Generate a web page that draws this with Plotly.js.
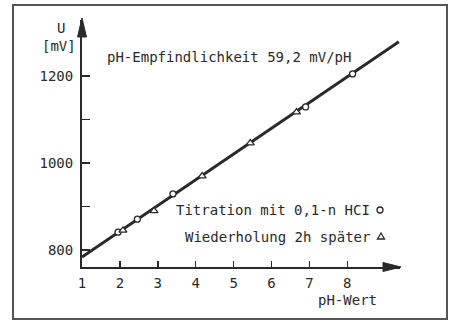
<!DOCTYPE html>
<html>
<head>
<meta charset="utf-8">
<script src="https://cdn.plot.ly/plotly-3.0.1.min.js"></script>
<style>html,body{margin:0;padding:0;background:#fff;}#chart{width:452px;height:320px;}</style>
</head>
<body>
<div id="chart"></div>
<script>
// Data
const titrationPH = [1.95, 2.46, 3.4, 6.9, 8.14];
const titrationU  = [841, 871, 929, 1129, 1205];
const repeatPH    = [2.08, 2.9, 4.17, 5.44, 6.66];
const repeatU     = [845, 890, 970, 1046, 1117];
const fitPH       = [1, 9.36];
const fitU        = [784, 1279];
const yTickVals   = [800, 900, 1000, 1100, 1200];
const yTickText   = ["800", "", "1000", "", "1200"];
const xTickVals   = [1, 2, 3, 4, 5, 6, 7, 8];
const xTickText   = ["1", "2", "3", "4", "5", "6", "7", "8"];

const W = 452, H = 320;
const M = {l: 82, r: 52, t: 20, b: 53};
const pw = W - M.l - M.r, ph = H - M.t - M.b;
const px = x => (x - M.l) / pw;
const py = y => (H - M.b - y) / ph;

const FONT = "DejaVu Sans Mono, monospace";
const INK = "#2a2a2a";

const traces = [
  {x: fitPH, y: fitU, mode: "lines", line: {color: INK, width: 3}, hoverinfo: "skip", showlegend: false},
  {x: titrationPH, y: titrationU, mode: "markers", showlegend: false,
   marker: {symbol: "circle", size: 6, color: "#fff", line: {color: INK, width: 1.3}}},
  {x: repeatPH, y: repeatU, mode: "markers", showlegend: false,
   marker: {symbol: "triangle-up", size: 7, color: "#fff", line: {color: INK, width: 1.3}}}
];

function ann(text, x, y, xanchor, size) {
  return {text: text, x: px(x), y: py(y), xref: "paper", yref: "paper", showarrow: false,
          xanchor: xanchor, yanchor: "middle", font: {family: FONT, size: size || 14, color: INK}};
}

const layout = {
  width: W, height: H,
  margin: M,
  paper_bgcolor: "#fff", plot_bgcolor: "#fff",
  showlegend: false,
  xaxis: {range: [1, 9.39], showgrid: false, zeroline: false, showline: true, linecolor: INK, linewidth: 2,
          ticks: "inside", ticklen: 6, tickwidth: 1.5, tickcolor: INK,
          tickvals: xTickVals, ticktext: xTickText, ticklabelstandoff: 2,
          tickfont: {family: FONT, size: 14, color: INK}},
  yaxis: {range: [761, 1329], showgrid: false, zeroline: false, showline: true, linecolor: INK, linewidth: 2,
          ticks: "inside", ticklen: 8, tickwidth: 1.5, tickcolor: INK,
          tickvals: yTickVals, ticktext: yTickText, ticklabelstandoff: 4,
          tickfont: {family: FONT, size: 14, color: INK}},
  annotations: [
    ann("pH-Empfindlichkeit 59,2 mV/pH", 105, 57, "left", 14),
    ann("U", 61, 28, "center", 14),
    ann("[mV]", 59, 46, "center", 14),
    ann("pH-Wert", 347, 300, "center", 14),
    ann("Titration mit 0,1-n HCI", 372, 210, "right", 14),
    ann("Wiederholung 2h später", 372, 237, "right", 14)
  ],
  shapes: [
    // frame
    {type: "rect", xref: "paper", yref: "paper", x0: px(13), x1: px(447), y0: py(319), y1: py(5),
     line: {color: "#555", width: 2}},
    // y arrowhead
    {type: "path", xref: "paper", yref: "paper",
     path: `M ${px(77.5)} ${py(37)} L ${px(82)} ${py(18)} L ${px(86.5)} ${py(37)} Z`,
     fillcolor: INK, line: {color: INK, width: 1}},
    // x arrowhead
    {type: "path", xref: "paper", yref: "paper",
     path: `M ${px(383)} ${py(262.5)} L ${px(401)} ${py(267)} L ${px(383)} ${py(271.5)} Z`,
     fillcolor: INK, line: {color: INK, width: 1}},
    // legend symbols
    {type: "circle", xref: "paper", yref: "paper", x0: px(377), x1: px(383), y0: py(213), y1: py(207),
     fillcolor: "#fff", line: {color: INK, width: 1.3}},
    {type: "path", xref: "paper", yref: "paper",
     path: `M ${px(377.5)} ${py(239)} L ${px(381)} ${py(233)} L ${px(384.5)} ${py(239)} Z`,
     fillcolor: "#fff", line: {color: INK, width: 1.3}}
  ]
};

Plotly.newPlot("chart", traces, layout, {staticPlot: true, displayModeBar: false});
</script>
</body>
</html>
